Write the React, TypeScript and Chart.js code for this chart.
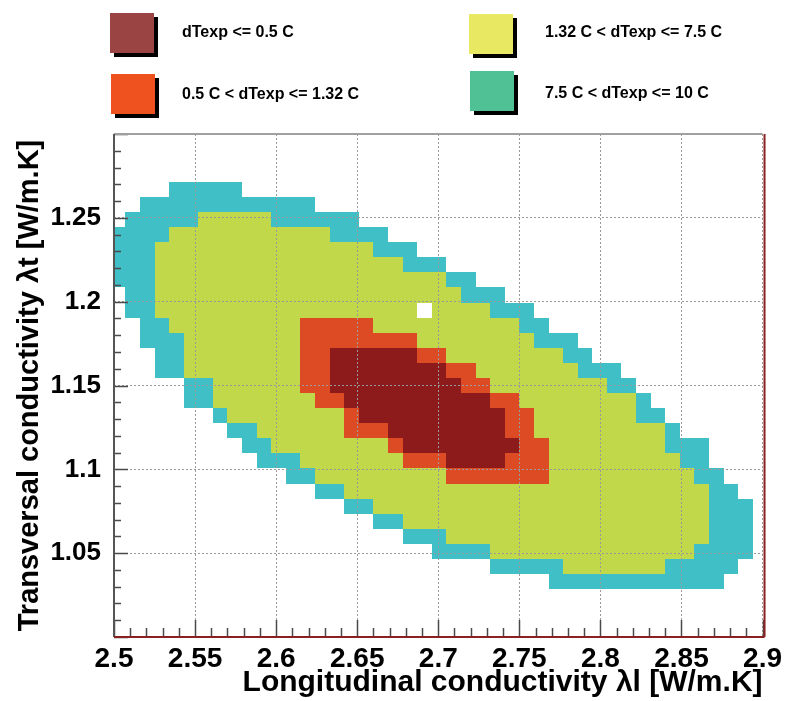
import React, { useEffect, useRef } from 'react';
import { Chart, registerables } from 'chart.js';

Chart.register(...registerables);

// ---------- data ----------
const levelLabels = [
  'dTexp <= 0.5 C',
  '0.5 C < dTexp <= 1.32 C',
  '1.32 C < dTexp <= 7.5 C',
  '7.5 C < dTexp <= 10 C',
];

const xTitle = 'Longitudinal conductivity λl [W/m.K]';
const yTitle = 'Transversal conductivity λt [W/m.K]';

// histogram binning (data units)
const xFirstEdge = 2.498;
const yTopEdge = 1.2715;
const binWidth = 0.009;

type Span = [number, number] | null;

// rows listed from top (j = 0) to bottom; [first bin, last bin] inclusive
const band7p5to10: Span[] = [
  [4, 8], [2, 13], [1, 16], [0, 18], [0, 20], [0, 22], [0, 24], [1, 26], [1, 28],
  [2, 29], [2, 31], [3, 32], [3, 34], [5, 35], [5, 36], [7, 37], [8, 38], [9, 40],
  [10, 40], [12, 41], [14, 42], [16, 43], [18, 43], [20, 43], [22, 43], [26, 42], [30, 41],
];
const band1p32to7p5: Span[] = [
  null, null, [6, 10], [4, 14], [3, 17], [3, 19], [3, 22], [3, 23], [3, 25],
  [4, 27], [5, 28], [5, 30], [5, 31], [7, 33], [7, 35], [8, 35], [10, 37], [11, 37],
  [13, 38], [14, 39], [16, 40], [18, 40], [20, 40], [23, 40], [26, 39], [31, 37], null,
];
const band0p5to1p32: Span[] = [
  null, null, null, null, null, null, null, null, null,
  [13, 17], [13, 20], [13, 22], [13, 24], [13, 25], [14, 27], [16, 28], [16, 28], [19, 29],
  [20, 29], [23, 29], null, null, null, null, null, null, null,
];
const bandBelow0p5: Span[] = [
  null, null, null, null, null, null, null, null, null,
  null, null, [15, 20], [15, 22], [15, 23], [16, 25], [17, 26], [19, 26], [20, 27],
  [23, 26], null, null, null, null, null, null, null, null,
];
// empty cells inside the region: [row, bin]
const emptyCells: [number, number][] = [[8, 21]];

// ---------- styles ----------
const cellColors = ['#40bfc6', '#c2d84b', '#dc4b23', '#8e1b1c'];
const legendColors = ['#9a4444', '#f0521f', '#e8e863', '#4fc194'];
const FONT = "'Liberation Sans', Arial, sans-serif";

const fmt = (v: number) => String(Math.round(v * 100) / 100);

const cellPlugin = {
  id: 'cells',
  beforeDraw(chart: any) {
    const { ctx, chartArea: a } = chart;
    const x = chart.scales.x;
    const y = chart.scales.y;
    ctx.save();
    ctx.beginPath();
    ctx.rect(a.left, a.top, a.right - a.left, a.bottom - a.top);
    ctx.clip();
    const px = (bin: number) => Math.round(x.getPixelForValue(xFirstEdge + bin * binWidth));
    const py = (row: number) => Math.round(y.getPixelForValue(yTopEdge - row * binWidth));
    const layers: [Span[], string][] = [
      [band7p5to10, cellColors[0]],
      [band1p32to7p5, cellColors[1]],
      [band0p5to1p32, cellColors[2]],
      [bandBelow0p5, cellColors[3]],
    ];
    layers.forEach(([rows, color]) => {
      ctx.fillStyle = color;
      rows.forEach((span, j) => {
        if (!span) return;
        const x0 = px(span[0]);
        const x1 = px(span[1] + 1);
        const yT = py(j);
        const yB = py(j + 1);
        ctx.fillRect(x0, yT, x1 - x0, yB - yT);
      });
    });
    ctx.fillStyle = '#ffffff';
    emptyCells.forEach(([row, bin]) => {
      const x0 = px(bin);
      const x1 = px(bin + 1);
      const yT = py(row);
      const yB = py(row + 1);
      ctx.fillRect(x0, yT, x1 - x0, yB - yT);
    });
    ctx.restore();
  },
};

const framePlugin = {
  id: 'frame',
  afterDraw(chart: any) {
    const { ctx, chartArea: a } = chart;
    const x = chart.scales.x;
    const y = chart.scales.y;
    ctx.save();
    ctx.strokeStyle = '#4a4a4a';
    ctx.lineWidth = 1.5;
    // bottom axis ticks (inside), every 0.01
    for (let i = 0; i <= 40; i++) {
      const xp = Math.round(x.getPixelForValue(x.min + i * 0.01)) + 0.5;
      const len = i % 5 === 0 ? 17 : 9;
      ctx.beginPath();
      ctx.moveTo(xp, a.bottom);
      ctx.lineTo(xp, a.bottom - len);
      ctx.stroke();
    }
    // left axis ticks (inside)
    for (let i = 0; i <= 30; i++) {
      const yp = Math.round(y.getPixelForValue(y.min + i * 0.01)) + 0.5;
      const len = i % 5 === 0 ? 14 : 7;
      ctx.beginPath();
      ctx.moveTo(a.left, yp);
      ctx.lineTo(a.left + len, yp);
      ctx.stroke();
    }
    // frame
    ctx.lineWidth = 2;
    ctx.strokeStyle = '#a0a0a0';
    ctx.beginPath();
    ctx.moveTo(a.left, a.top);
    ctx.lineTo(a.right, a.top);
    ctx.stroke();
    ctx.strokeStyle = '#555555';
    ctx.beginPath();
    ctx.moveTo(a.left, a.top);
    ctx.lineTo(a.left, a.bottom);
    ctx.stroke();
    ctx.strokeStyle = '#8a2020';
    ctx.beginPath();
    ctx.moveTo(a.left, a.bottom);
    ctx.lineTo(a.right + 2, a.bottom);
    ctx.stroke();
    ctx.beginPath();
    ctx.moveTo(a.right + 2, a.top);
    ctx.lineTo(a.right + 2, a.bottom);
    ctx.stroke();
    ctx.restore();
  },
};

const legendPlugin = {
  id: 'boxLegend',
  afterDraw(chart: any) {
    const { ctx } = chart;
    // legend order: col1 row1, col1 row2, col2 row1, col2 row2
    const slots = [
      { bx: 110, by: 13, tx: 182, ty: 33 },
      { bx: 111, by: 74, tx: 182, ty: 95 },
      { bx: 469, by: 14, tx: 545, ty: 33 },
      { bx: 470, by: 71, tx: 545, ty: 94 },
    ];
    ctx.save();
    levelLabels.forEach((label, i) => {
      const s = slots[i];
      ctx.fillStyle = '#000000';
      ctx.fillRect(s.bx + 4, s.by + 4, 44, 40);
      ctx.fillStyle = legendColors[i];
      ctx.fillRect(s.bx, s.by, 44, 40);
      ctx.fillStyle = '#000000';
      ctx.font = `bold 16px ${FONT}`;
      ctx.textAlign = 'left';
      ctx.textBaseline = 'middle';
      ctx.fillText(label, s.tx, s.ty);
    });
    ctx.restore();
  },
};

export default function App() {
  const ref = useRef<HTMLCanvasElement>(null);
  useEffect(() => {
    const chart = new Chart(ref.current as HTMLCanvasElement, {
      type: 'scatter',
      data: { datasets: [] },
      options: {
        animation: false,
        responsive: false,
        devicePixelRatio: 1,
        layout: { padding: { left: 0, top: 134, right: 22, bottom: 0 } },
        plugins: { legend: { display: false }, tooltip: { enabled: false } },
        scales: {
          x: {
            type: 'linear',
            min: 2.5,
            max: 2.9,
            afterFit: (s: any) => {
              s.height = 64;
            },
            ticks: {
              stepSize: 0.05,
              autoSkip: false,
              maxRotation: 0,
              padding: 5,
              color: '#000',
              font: { family: FONT, size: 28, weight: 'bold' },
              callback: (v: any) => fmt(Number(v)),
            },
            grid: { color: '#9a9a9a', lineWidth: 1, drawTicks: false },
            border: { display: false, dash: [2, 2] },
            title: {
              display: true,
              text: xTitle,
              align: 'end',
              color: '#000',
              font: { family: FONT, size: 30, weight: 'bold' },
              padding: { top: 0, bottom: 0 },
            },
          },
          y: {
            type: 'linear',
            min: 1.0,
            max: 1.3,
            afterFit: (s: any) => {
              s.width = 114;
            },
            ticks: {
              stepSize: 0.05,
              autoSkip: false,
              padding: 13,
              color: '#000',
              font: { family: FONT, size: 26, weight: 'bold' },
              callback: (v: any) => {
                const r = Math.round(Number(v) * 100) / 100;
                return r <= 1.0001 || r >= 1.2999 ? '' : fmt(r);
              },
            },
            grid: { color: '#9a9a9a', lineWidth: 1, drawTicks: false },
            border: { display: false, dash: [2, 2] },
            title: {
              display: true,
              text: yTitle,
              align: 'center',
              color: '#000',
              font: { family: FONT, size: 29, weight: 'bold' },
              padding: { top: 13, bottom: 0 },
            },
          },
        },
      } as any,
      plugins: [cellPlugin, framePlugin, legendPlugin],
    });
    return () => chart.destroy();
  }, []);
  return (
    <canvas
      ref={ref}
      width={787}
      height={701}
      style={{ position: 'absolute', left: 0, top: 0, width: 787, height: 701 }}
    />
  );
}
